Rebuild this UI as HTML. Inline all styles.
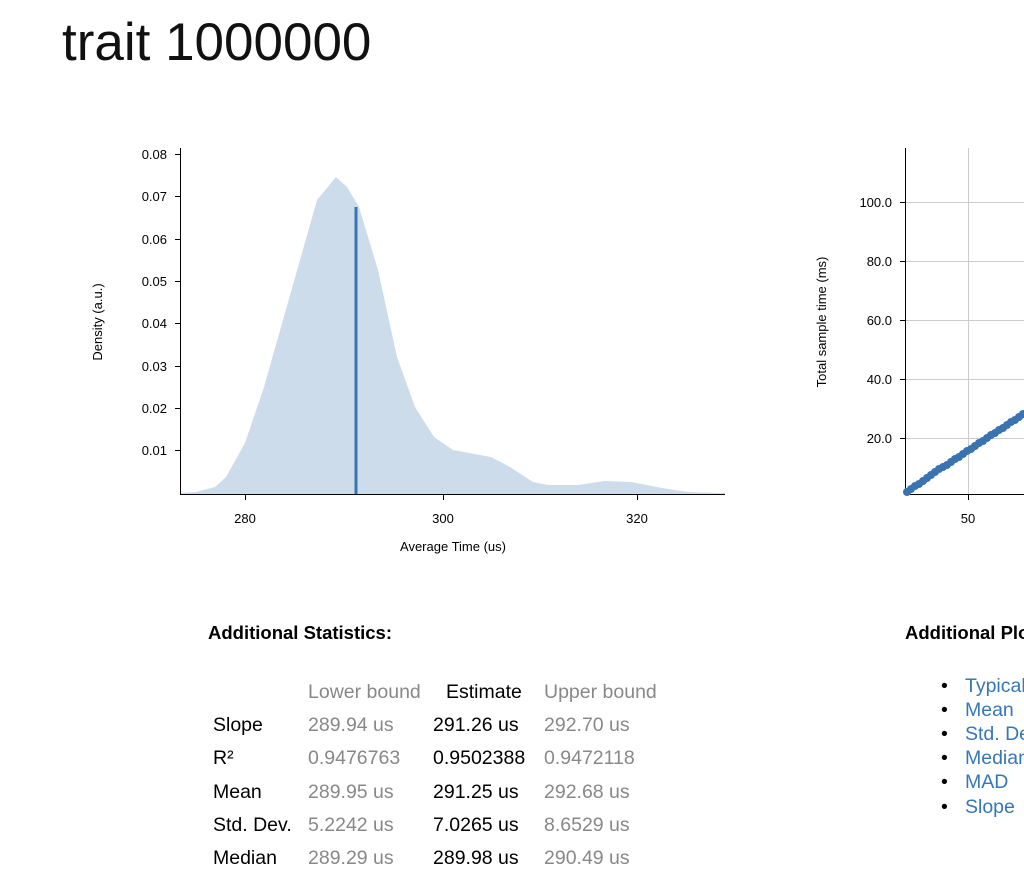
<!DOCTYPE html>
<html><head><meta charset="utf-8"><style>
body{margin:0;width:1024px;height:877px;overflow:hidden;background:#fff;font-family:"Liberation Sans",sans-serif;position:relative}
.a{position:absolute;white-space:nowrap}
h1{position:absolute;left:62px;top:12px;margin:0;font-weight:normal;font-size:53px;letter-spacing:0px;color:#111}
.t{font-size:19.5px;color:#000}
.g{color:#888}
.b{font-weight:bold;font-size:18.5px}
.l{color:#3577b8;font-size:19.5px}
</style></head><body>
<h1>trait 1000000</h1>
<svg class="a" style="left:0;top:0" width="1024" height="560" font-family="Liberation Sans, sans-serif" font-size="13">
<polygon fill="#cddceb" points="180,493 196,492 215,487 226,477 245,443 264,387 283,320 302,253 317,200 336,177 347,187 359,207 378,270 397,357 415,407 434,437 453,450 491,457 510,467 533,482 548,485 578,485 605,481 631,482 662,488 688,492 718,493 725,493 725,494 180,494"/>
<line x1="356" y1="207" x2="356" y2="494" stroke="#3a74b0" stroke-width="3"/>
<g stroke="#000" stroke-width="1">
<line x1="180.5" y1="148" x2="180.5" y2="494"/><line x1="180" y1="494.5" x2="725" y2="494.5"/>
<line x1="175" y1="154.5" x2="180" y2="154.5"/><line x1="175" y1="196.5" x2="180" y2="196.5"/><line x1="175" y1="239.5" x2="180" y2="239.5"/><line x1="175" y1="281.5" x2="180" y2="281.5"/><line x1="175" y1="323.5" x2="180" y2="323.5"/><line x1="175" y1="366.5" x2="180" y2="366.5"/><line x1="175" y1="408.5" x2="180" y2="408.5"/><line x1="175" y1="450.5" x2="180" y2="450.5"/>
<line x1="245.5" y1="494" x2="245.5" y2="500"/><line x1="443.5" y1="494" x2="443.5" y2="500"/><line x1="637.5" y1="494" x2="637.5" y2="500"/>
</g>
<g text-anchor="end">
<text x="167" y="159">0.08</text><text x="167" y="201">0.07</text><text x="167" y="244">0.06</text><text x="167" y="286">0.05</text><text x="167" y="328">0.04</text><text x="167" y="371">0.03</text><text x="167" y="413">0.02</text><text x="167" y="455">0.01</text>
</g>
<g text-anchor="middle">
<text x="245" y="523">280</text><text x="443" y="523">300</text><text x="637" y="523">320</text>
<text x="453" y="551">Average Time (us)</text>
<text transform="translate(102,322) rotate(-90)">Density (a.u.)</text>
<text transform="translate(826,322) rotate(-90)">Total sample time (ms)</text>
<text x="968" y="523">50</text>
</g>
<g stroke="#ccc" stroke-width="1">
<line x1="905" y1="202.5" x2="1024" y2="202.5"/><line x1="905" y1="261.5" x2="1024" y2="261.5"/><line x1="905" y1="320.5" x2="1024" y2="320.5"/><line x1="905" y1="379.5" x2="1024" y2="379.5"/><line x1="905" y1="438.5" x2="1024" y2="438.5"/>
<line x1="968.5" y1="148" x2="968.5" y2="494"/>
</g>
<g stroke="#000"><line x1="905.5" y1="148" x2="905.5" y2="494"/><line x1="905" y1="494.5" x2="1024" y2="494.5"/>
<line x1="900" y1="202.5" x2="905" y2="202.5"/><line x1="900" y1="261.5" x2="905" y2="261.5"/><line x1="900" y1="320.5" x2="905" y2="320.5"/><line x1="900" y1="379.5" x2="905" y2="379.5"/><line x1="900" y1="438.5" x2="905" y2="438.5"/><line x1="968.5" y1="494" x2="968.5" y2="500"/></g>
<g text-anchor="end"><text x="892" y="207">100.0</text><text x="892" y="266">80.0</text><text x="892" y="325">60.0</text><text x="892" y="384">40.0</text><text x="892" y="443">20.0</text></g>
<g fill="#3a74b0">
<circle cx="907" cy="492" r="4"/><circle cx="911" cy="489" r="4"/><circle cx="915" cy="486" r="4"/><circle cx="919" cy="484" r="4"/><circle cx="923" cy="481" r="4"/><circle cx="927" cy="478" r="4"/><circle cx="931" cy="475" r="4"/><circle cx="935" cy="472" r="4"/><circle cx="939" cy="469" r="4"/><circle cx="943" cy="467" r="4"/><circle cx="947" cy="465" r="4"/><circle cx="951" cy="462" r="4"/><circle cx="955" cy="459" r="4"/><circle cx="959" cy="457" r="4"/><circle cx="963" cy="454" r="4"/><circle cx="967" cy="451" r="4"/><circle cx="971" cy="449" r="4"/><circle cx="975" cy="446" r="4"/><circle cx="979" cy="443" r="4"/><circle cx="983" cy="441" r="4"/><circle cx="987" cy="438" r="4"/><circle cx="991" cy="435" r="4"/><circle cx="995" cy="433" r="4"/><circle cx="999" cy="430" r="4"/><circle cx="1003" cy="428" r="4"/><circle cx="1007" cy="425" r="4"/><circle cx="1011" cy="422" r="4"/><circle cx="1015" cy="420" r="4"/><circle cx="1019" cy="417" r="4"/><circle cx="1023" cy="414" r="4"/>
</g>
</svg>
<div class="a b" style="left:208px;top:622px">Additional Statistics:</div>
<div class="a b" style="left:905px;top:622px">Additional Plots:</div>
<div class="a t g" style="left:308px;top:681px">Lower bound</div><div class="a t" style="left:446px;top:681px">Estimate</div><div class="a t g" style="left:544px;top:681px">Upper bound</div>
<div class="a t" style="left:213px;top:714px">Slope</div><div class="a t g" style="left:308px;top:714px">289.94 us</div><div class="a t" style="left:433px;top:714px">291.26 us</div><div class="a t g" style="left:544px;top:714px">292.70 us</div>
<div class="a t" style="left:213px;top:747px">R²</div><div class="a t g" style="left:308px;top:747px">0.9476763</div><div class="a t" style="left:433px;top:747px">0.9502388</div><div class="a t g" style="left:544px;top:747px">0.9472118</div>
<div class="a t" style="left:213px;top:781px">Mean</div><div class="a t g" style="left:308px;top:781px">289.95 us</div><div class="a t" style="left:433px;top:781px">291.25 us</div><div class="a t g" style="left:544px;top:781px">292.68 us</div>
<div class="a t" style="left:213px;top:814px">Std. Dev.</div><div class="a t g" style="left:308px;top:814px">5.2242 us</div><div class="a t" style="left:433px;top:814px">7.0265 us</div><div class="a t g" style="left:544px;top:814px">8.6529 us</div>
<div class="a t" style="left:213px;top:847px">Median</div><div class="a t g" style="left:308px;top:847px">289.29 us</div><div class="a t" style="left:433px;top:847px">289.98 us</div><div class="a t g" style="left:544px;top:847px">290.49 us</div>
<div class="a t" style="left:941px;top:675px">•</div><div class="a l" style="left:965px;top:675px">Typical</div>
<div class="a t" style="left:941px;top:699px">•</div><div class="a l" style="left:965px;top:699px">Mean</div>
<div class="a t" style="left:941px;top:723px">•</div><div class="a l" style="left:965px;top:723px">Std. Dev.</div>
<div class="a t" style="left:941px;top:747px">•</div><div class="a l" style="left:965px;top:747px">Median</div>
<div class="a t" style="left:941px;top:771px">•</div><div class="a l" style="left:965px;top:771px">MAD</div>
<div class="a t" style="left:941px;top:796px">•</div><div class="a l" style="left:965px;top:796px">Slope</div>
</body></html>
